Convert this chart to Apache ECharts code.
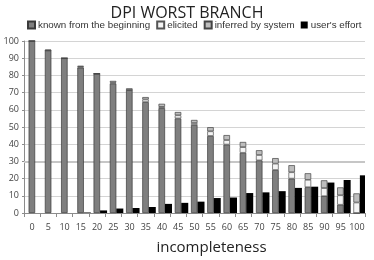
<!DOCTYPE html>
<html>
<head>
<meta charset="utf-8">
<script src="https://cdn.jsdelivr.net/npm/echarts@6/dist/echarts.min.js"></script>
<style>html,body{margin:0;padding:0;background:#fff;}#c{width:374px;height:260px;}</style>
</head>
<body>
<div id="c"></div>
<script>
var categories = ['0','5','10','15','20','25','30','35','40','45','50','55','60','65','70','75','80','85','90','95','100'];
var known    = [100, 94.5, 90, 84.5, 81, 75.3, 71.5, 64.5, 61, 55, 51.2, 44.8, 39.8, 35, 30.6, 25, 20, 15, 9.8, 4.8, 0];
var elicited = [0, 0, 0, 0.5, 0, 0.5, 0, 1.5, 0.7, 1.8, 1.1, 2.7, 2.6, 3.3, 3.1, 3.7, 3.7, 4.3, 4.7, 5.5, 6.1];
var inferred = [0, 0.5, 0, 0.6, 0, 1, 1, 1.4, 1.8, 1.9, 1.8, 2.4, 2.9, 3, 2.8, 3.2, 4.1, 3.8, 4.5, 4.6, 5.3];
var effort   = [0, 0, 0, 0.3, 1.5, 2.6, 2.9, 3.5, 5.3, 5.9, 6.6, 8.7, 9.0, 11.6, 12.0, 12.7, 14.6, 15.3, 17.7, 19.2, 21.9];
var yTicks = [0, 100, 10];

var font = '"Open Sans", "Noto Sans", sans-serif';
var legendFont = '"Liberation Sans", Arial, sans-serif';
var chart = echarts.init(document.getElementById('c'), null, {renderer: 'canvas'});
var placeholder = categories.map(function(){ return '-'; });
chart.setOption({
  animation: false,
  textStyle: {fontFamily: font},
  title: {
    text: 'DPI WORST BRANCH', left: 'center', top: 0,
    textStyle: {fontSize: 16, fontWeight: 'normal', color: '#222', fontFamily: font}
  },
  legend: {
    data: ['known from the beginning', 'elicited', 'inferred by system', "user's effort"],
    left: 22, top: 15, width: 360, itemWidth: 7, itemHeight: 7, itemGap: 6,
    icon: 'rect',
    textStyle: {fontSize: 9.8, color: '#333', fontFamily: legendFont, padding: [0, 0, 0, -2]}
  },
  grid: {left: 24, right: 9, top: 41, bottom: 38, containLabel: false},
  xAxis: {
    type: 'category', data: categories,
    axisLine: {lineStyle: {color: '#8c8c8c'}},
    axisTick: {show: true, length: 4, lineStyle: {color: '#8c8c8c'}},
    axisLabel: {fontSize: 9, color: '#444', margin: 10, interval: 0},
    name: 'incompleteness', nameLocation: 'middle', nameGap: 27,
    nameTextStyle: {fontSize: 15, color: '#222', padding: [0, 0, 0, 34]}
  },
  yAxis: {
    type: 'value', min: yTicks[0], max: yTicks[1], interval: yTicks[2],
    axisLine: {show: true, lineStyle: {color: '#8c8c8c'}},
    axisTick: {show: true, length: 2, lineStyle: {color: '#8c8c8c'}},
    axisLabel: {fontSize: 9, color: '#444', margin: 5},
    splitLine: {lineStyle: {color: '#d4d4d4'}}
  },
  series: [
    {name: 'pad', type: 'bar', data: placeholder, barWidth: 6.5, barGap: '0%', z: 1,
     markLine: {silent: true, symbol: 'none', z: 1, label: {show: false},
       lineStyle: {color: '#c6c6c6', width: 2, type: 'solid'}, data: [{yAxis: 30}]}},
    {name: 'known from the beginning', type: 'bar', stack: 'a', data: known, barWidth: 6.5, barGap: '0%', z: 3,
     itemStyle: {color: '#7f7f7f', borderColor: '#3a3a3a', borderWidth: 0.7}},
    {name: 'elicited', type: 'bar', stack: 'a', data: elicited, barWidth: 6.5, barGap: '0%', z: 3,
     itemStyle: {color: '#f4f4f4', borderColor: '#555', borderWidth: 0.7}},
    {name: 'inferred by system', type: 'bar', stack: 'a', data: inferred, barWidth: 6.5, barGap: '0%', z: 3,
     itemStyle: {color: '#bdbdbd', borderColor: '#444', borderWidth: 0.7}},
    {name: "user's effort", type: 'bar', data: effort, barWidth: 7, barGap: '0%', z: 3,
     itemStyle: {color: '#000'}}
  ]
});
</script>
</body>
</html>
